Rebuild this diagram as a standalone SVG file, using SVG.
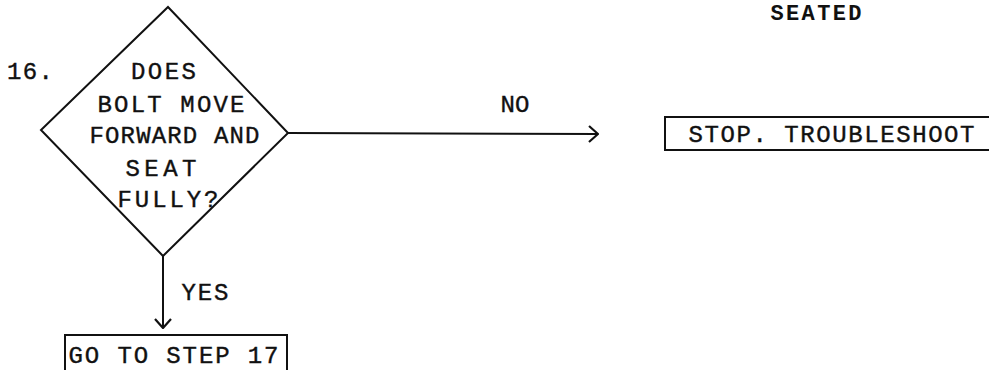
<svg xmlns="http://www.w3.org/2000/svg" width="989" height="370" viewBox="0 0 989 370">
<style>
.t{font-family:"Liberation Mono","DejaVu Sans Mono",monospace;font-size:24px;fill:#111;stroke:#111;stroke-width:0.4}
.b{font-weight:bold;font-size:22px;stroke-width:0}
.s{fill:none;stroke:#111;stroke-width:2;stroke-linejoin:miter}
</style>
<defs>
<marker id="arr" viewBox="0 0 12 18" refX="11" refY="9" markerWidth="12" markerHeight="18" markerUnits="userSpaceOnUse" orient="auto">
<path d="M2,1 L11,9 L2,17" fill="none" stroke="#111" stroke-width="2.2"/>
</marker>
</defs>
<rect width="989" height="370" fill="#fff"/>
<text class="t b" x="770.5" y="20" textLength="91" lengthAdjust="spacing">SEATED</text>
<g id="n16">
<polygon class="s" points="168,7 288,133 163,256 41,130"/>
<text class="t" x="7" y="79" textLength="46" lengthAdjust="spacing">16.</text>
<text class="t" x="131" y="79" textLength="65" lengthAdjust="spacing">DOES</text>
<text class="t" x="97.5" y="112" textLength="147" lengthAdjust="spacing">BOLT MOVE</text>
<text class="t" x="89.5" y="143" textLength="170" lengthAdjust="spacing">FORWARD AND</text>
<text class="t" x="125.5" y="176" textLength="71" lengthAdjust="spacing">SEAT</text>
<text class="t" x="117.5" y="207" textLength="101" lengthAdjust="spacing">FULLY?</text>
</g>
<g id="stop">
<rect class="s" x="665" y="117" width="340" height="33"/>
<text class="t" x="688.5" y="142" textLength="286" lengthAdjust="spacing">STOP. TROUBLESHOOT</text>
</g>
<g id="step17">
<rect class="s" x="65" y="335" width="222" height="50"/>
<text class="t" x="68.5" y="363" textLength="210" lengthAdjust="spacing">GO TO STEP 17</text>
</g>
<g id="connectors">
<line class="s" x1="288" y1="133" x2="598" y2="134" marker-end="url(#arr)"/>
<text class="t" x="500.5" y="112" textLength="29" lengthAdjust="spacing">NO</text>
<line class="s" x1="163" y1="256" x2="163" y2="328" marker-end="url(#arr)"/>
<text class="t" x="181.5" y="300" textLength="47" lengthAdjust="spacing">YES</text>
</g>
</svg>
